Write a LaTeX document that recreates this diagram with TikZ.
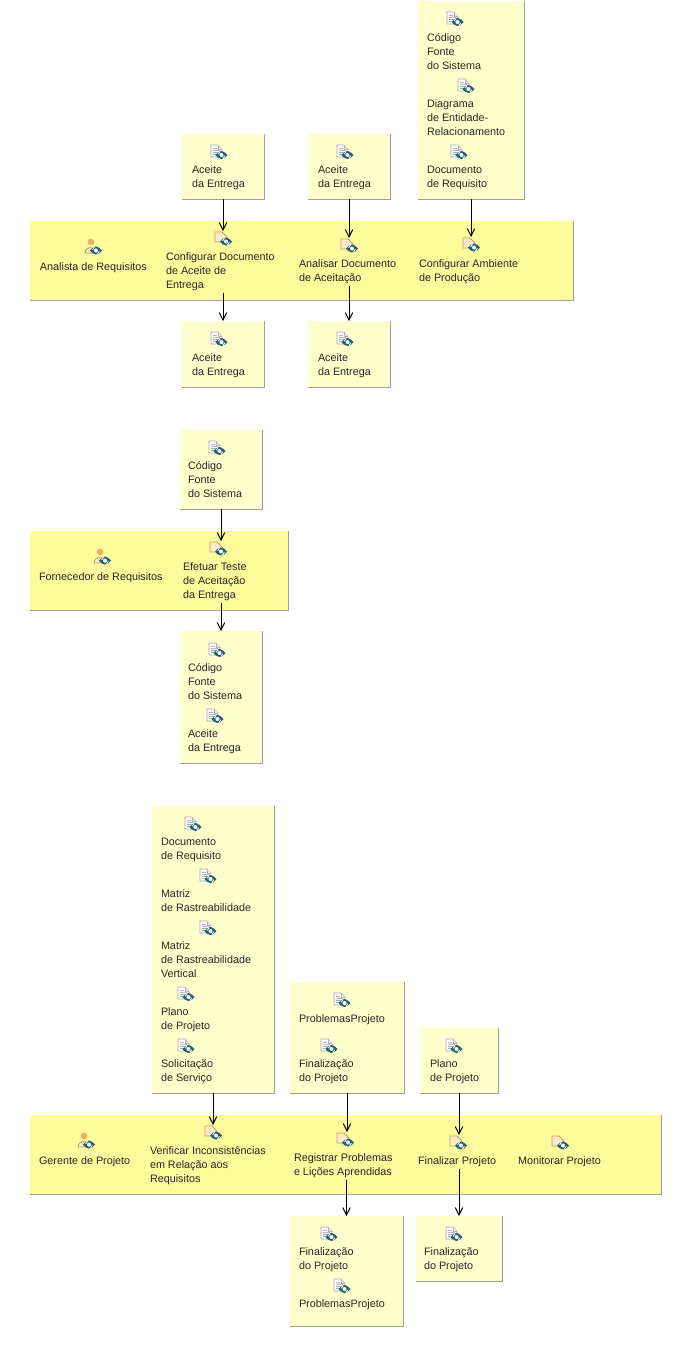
\documentclass[tikz,border=0pt]{standalone}
\usepackage{fontspec}
\setmainfont{Liberation Sans}
\usetikzlibrary{arrows.meta}
\definecolor{lanefill}{HTML}{FFFB9C}
\definecolor{boxfill}{HTML}{FFFFCC}
\definecolor{edgegray}{HTML}{A0A09A}
\definecolor{syncblue}{HTML}{1F5F78}
\definecolor{tan1}{HTML}{C8A05A}
\definecolor{tan2}{HTML}{FBEBCB}
\definecolor{tan3}{HTML}{DDB56C}
\tikzset{
  x=0.75pt,y=-0.75pt,
  lbl/.style={anchor=north west,inner sep=0pt,outer sep=0pt,align=left,font=\fontsize{8.1}{10.5}\selectfont,text=black!85},
  arr/.style={-{Straight Barb[length=5.5pt,width=5.5pt]},line width=0.75pt,black},
  pane/.style={inner sep=0pt,outer sep=0pt,anchor=north west},
  iconspot/.style={inner sep=0pt,outer sep=0pt,minimum width=12pt,minimum height=10.5pt},
  pics/syncmark/.style={code={
    \fill[syncblue] (-6,0) -- (-3,-3) -- (-3,3) -- cycle;
    \fill[syncblue] (6,0) -- (3,-3) -- (3,3) -- cycle;
    \draw[syncblue,fill=white,line width=1.3pt] (0,0) circle (3.1);
    \draw[white,line width=0.7pt] (-1.5,-3.2) -- (-3.4,-0.8) (1.5,3.2) -- (3.4,0.8);
  }},
  pics/docicon/.style={code={
    \draw[line width=0.5pt,draw=black!25!blue!20!gray!60,fill=white] (-7,-6) -- (0,-6) -- (4,-2) -- (4,6) -- (-7,6) -- cycle;
    \draw[line width=0.5pt,draw=black!30,fill=black!8] (0,-6) -- (0,-2) -- (4,-2);
    \draw[line width=0.6pt,violet!35] (-5,-3) -- (-1,-3) (-5,-1) -- (2,-1);
    \draw[line width=0.6pt,green!45!black!45] (-5,1) -- (1,1) (-5,3) -- (-1,3);
    \pic at (3.5,4) {syncmark};
  }},
  pics/taskicon/.style={code={
    \draw[line width=0.7pt,draw=tan1,fill=tan2] (-7,-6) -- (0,-6) -- (5,-1) -- (5,4) -- (-7,4) -- cycle;
    \pic at (4,3.5) {syncmark};
  }},
  pics/roleicon/.style={code={
    \fill[tan3] (-1,-6) circle (3.4);
    \draw[line width=0.7pt,draw=tan1,fill=tan2] (-7,5) .. controls (-6,-2) and (2,-3) .. (3,5) -- cycle;
    \pic at (4,2.5) {syncmark};
  }},
}
\newcommand{\pane}[6]{% name x0 y0 x1 y1 fill
  \node[pane,fill=#6,minimum width=#4*0.75pt-#2*0.75pt,minimum height=#5*0.75pt-#3*0.75pt] (#1) at (#2,#3) {};
  \draw[edgegray,line width=0.75pt] (#1.north east) -- (#1.south east) -- (#1.south west);
}
\newcommand{\doc}[2]{\pic at (#1,#2) {docicon};}
\newcommand{\lb}[4]{\node[lbl] (#1) at (#2,#3-5) {\strut #4\strut};}
\newcommand{\tsk}[3]{\node[iconspot] (#1) at (#2,#3) {}; \pic at (#2,#3) {taskicon};}
\begin{document}
\begin{tikzpicture}
\useasboundingbox (0,0) rectangle (681,1368);
\fill[white] (0,0) rectangle (681,1368);
% lanes
\pane{laneA}{30}{221}{573}{300}{lanefill}
\pane{laneB}{30}{531}{288}{610}{lanefill}
\pane{laneC}{30}{1115}{661}{1194}{lanefill}
% boxes
\pane{inAa}{182}{134}{264}{199}{boxfill}
\pane{inAb}{308}{134}{390}{199}{boxfill}
\pane{inAc}{418}{1}{524}{199}{boxfill}
\pane{outAa}{182}{321}{264}{387}{boxfill}
\pane{outAb}{308}{321}{390}{387}{boxfill}
\pane{inBa}{180}{430}{262}{509}{boxfill}
\pane{outBa}{180}{631}{262}{763}{boxfill}
\pane{inCa}{152}{806}{274}{1093}{boxfill}
\pane{inCb}{290}{982}{404}{1093}{boxfill}
\pane{inCc}{420}{1028}{498}{1093}{boxfill}
\pane{outCb}{290}{1216}{403}{1326}{boxfill}
\pane{outCc}{416}{1216}{502}{1281}{boxfill}
% top right box
\doc{454}{18}\lb{c1}{427}{37}{Código\\Fonte\\do Sistema}
\doc{465}{85}\lb{c2}{427}{103}{Diagrama\\de Entidade-\\Relacionamento}
\doc{458}{151}\lb{c3}{427}{169}{Documento\\de Requisito}
\doc{218}{151}\lb{a1}{192}{169}{Aceite\\da Entrega}
\doc{344}{151}\lb{b1}{318}{169}{Aceite\\da Entrega}
% lane A
\pic at (92,248) {roleicon};\lb{rA}{40}{266}{Analista de Requisitos}
\tsk{tAa}{222}{238}\lb{lAa}{166}{256}{Configurar Documento\\de Aceite de\\Entrega}
\tsk{tAb}{348}{245}\lb{lAb}{299}{263}{Analisar Documento\\de Aceitação}
\tsk{tAc}{470}{244}\lb{lAc}{419}{263}{Configurar Ambiente\\de Produção}
\doc{218}{338}\lb{d1}{192}{357}{Aceite\\da Entrega}
\doc{344}{338}\lb{e1}{318}{357}{Aceite\\da Entrega}
% group B
\doc{216}{447}\lb{f1}{188}{465}{Código\\Fonte\\do Sistema}
\pic at (101,558) {roleicon};\lb{rB}{39}{576}{Fornecedor de Requisitos}
\tsk{tBa}{217}{548}\lb{lBa}{183}{566}{Efetuar Teste\\de Aceitação\\da Entrega}
\doc{216}{649}\lb{g1}{188}{667}{Código\\Fonte\\do Sistema}
\doc{214}{715}\lb{g2}{188}{733}{Aceite\\da Entrega}
% group C
\doc{192}{823}\lb{h1}{161}{841}{Documento\\de Requisito}
\doc{207}{875}\lb{h2}{161}{893}{Matriz\\de Rastreabilidade}
\doc{207}{927}\lb{h3}{161}{945}{Matriz\\de Rastreabilidade\\Vertical}
\doc{185}{993}\lb{h4}{161}{1011}{Plano\\de Projeto}
\doc{185}{1045}\lb{h5}{161}{1063}{Solicitação\\de Serviço}
\doc{341}{999}\lb{i1}{299}{1018}{ProblemasProjeto}
\doc{328}{1045}\lb{i2}{299}{1063}{Finalização\\do Projeto}
\doc{453}{1045}\lb{j1}{430}{1063}{Plano\\de Projeto}
\pic at (85,1142) {roleicon};\lb{rC}{39}{1160}{Gerente de Projeto}
\tsk{tCa}{212}{1132}\lb{lCa}{150}{1150}{Verificar Inconsistências\\em Relação aos\\Requisitos}
\tsk{tCb}{344}{1139}\lb{lCb}{294}{1157}{Registrar Problemas\\e Lições Aprendidas}
\tsk{tCc}{457}{1142}\lb{lCc}{418}{1160}{Finalizar Projeto}
\tsk{tCd}{559}{1142}\lb{lCd}{518}{1160}{Monitorar Projeto}
\doc{328}{1233}\lb{k1}{299}{1251}{Finalização\\do Projeto}
\doc{341}{1285}\lb{k2}{299}{1303}{ProblemasProjeto}
\doc{453}{1233}\lb{m1}{424}{1251}{Finalização\\do Projeto}
% connectors
\draw[arr] (inAa.south) -- (inAa.south |- tAa.north);
\draw[arr] (inAb.south) -- (inAb.south |- tAb.north);
\draw[arr] (inAc.south) -- (inAc.south |- tAc.north);
\draw[arr] (outAa.north |- lAa.south) -- (outAa.north);
\draw[arr] (outAb.north |- lAb.south) -- (outAb.north);
\draw[arr] (inBa.south) -- (inBa.south |- tBa.north);
\draw[arr] (outBa.north |- lBa.south) -- (outBa.north);
\draw[arr] (inCa.south) -- (inCa.south |- tCa.north);
\draw[arr] (inCb.south) -- (inCb.south |- tCb.north);
\draw[arr] (inCc.south) -- (inCc.south |- tCc.north);
\draw[arr] (outCb.north |- lCb.south) -- (outCb.north);
\draw[arr] (outCc.north |- lCc.south) -- (outCc.north);
\end{tikzpicture}
\end{document}
